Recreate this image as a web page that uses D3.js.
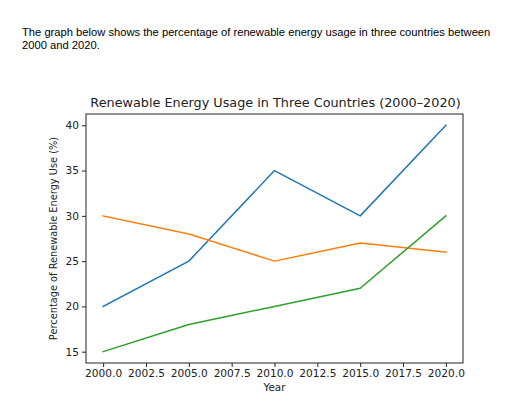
<!DOCTYPE html>
<html><head><meta charset="utf-8">
<script src="https://cdn.jsdelivr.net/npm/d3@7"></script>
<style>body{margin:0;background:#fff;} svg{display:block;}</style>
</head><body>
<script>
const years = [2000, 2005, 2010, 2015, 2020];
const countryA = [20, 25, 35, 30, 40];
const countryB = [30, 28, 25, 27, 26];
const countryC = [15, 18, 20, 22, 30];
const xTicks = [2000, 2002.5, 2005, 2007.5, 2010, 2012.5, 2015, 2017.5, 2020];
const yTicks = [15, 20, 25, 30, 35, 40];
const seriesColors = ["#1f77b4", "#ff7f0e", "#2ca02c"];
const series = [countryA, countryB, countryC];

const W = 512, H = 417;
const svg = d3.select("body").append("svg").attr("width", W).attr("height", H);

const header = ["The graph below shows the percentage of renewable energy usage in three countries between", "2000 and 2020."];
svg.append("g").selectAll("text").data(header).join("text")
  .attr("x", 22).attr("y", (d,i) => 36 + i*12.5)
  .attr("font-family", "Liberation Sans, Arial, sans-serif").attr("font-size", 11.2)
  .attr("fill", "#000").text(d => d);

const m = {left: 86, right: 463, top: 114, bottom: 363};
const x = d3.scaleLinear().domain([1999, 2021]).range([m.left, m.right]);
const y = d3.scaleLinear().domain([13.75, 41.25]).range([m.bottom, m.top]);

const font = "DejaVu Sans, sans-serif";

const line = d3.line().x((d,i) => x(years[i])).y(d => y(d));
svg.append("g").selectAll("path").data(series).join("path")
  .attr("d", d => line(d)).attr("fill", "none")
  .attr("stroke", (d,i) => seriesColors[i]).attr("stroke-width", 1.5)
  .attr("stroke-linejoin", "round").attr("stroke-linecap", "square");

svg.append("rect").attr("x", m.left).attr("y", m.top)
  .attr("width", m.right - m.left).attr("height", m.bottom - m.top)
  .attr("fill", "none").attr("stroke", "#222").attr("stroke-width", 1);

const xAxis = svg.append("g").attr("transform", `translate(0,${m.bottom})`)
  .call(d3.axisBottom(x).tickValues(xTicks).tickFormat(d3.format(".1f")).tickSize(4).tickSizeOuter(0));
const yAxis = svg.append("g").attr("transform", `translate(${m.left},0)`)
  .call(d3.axisLeft(y).tickValues(yTicks).tickFormat(d3.format("d")).tickSize(4).tickSizeOuter(0));
[xAxis, yAxis].forEach(a => {
  a.select(".domain").remove();
  a.selectAll("line").attr("stroke", "#222");
  a.selectAll("text").attr("font-family", font).attr("font-size", 10.6).attr("fill", "#222");
});
xAxis.selectAll("text").attr("dy", "0.71em").attr("y", 6);
yAxis.selectAll("text").attr("x", -7);

svg.append("text").attr("x", (m.left + m.right)/2 + 1).attr("y", 107)
  .attr("text-anchor", "middle").attr("font-family", font).attr("font-size", 12.8)
  .attr("fill", "#222").text("Renewable Energy Usage in Three Countries (2000–2020)");

svg.append("text").attr("x", (m.left + m.right)/2).attr("y", 391)
  .attr("text-anchor", "middle").attr("font-family", font).attr("font-size", 10.4)
  .attr("fill", "#222").text("Year");

svg.append("text").attr("transform", `translate(57,238.5) rotate(-90)`)
  .attr("text-anchor", "middle").attr("font-family", font).attr("font-size", 9.8)
  .attr("fill", "#222").text("Percentage of Renewable Energy Use (%)");
</script>
</body></html>
